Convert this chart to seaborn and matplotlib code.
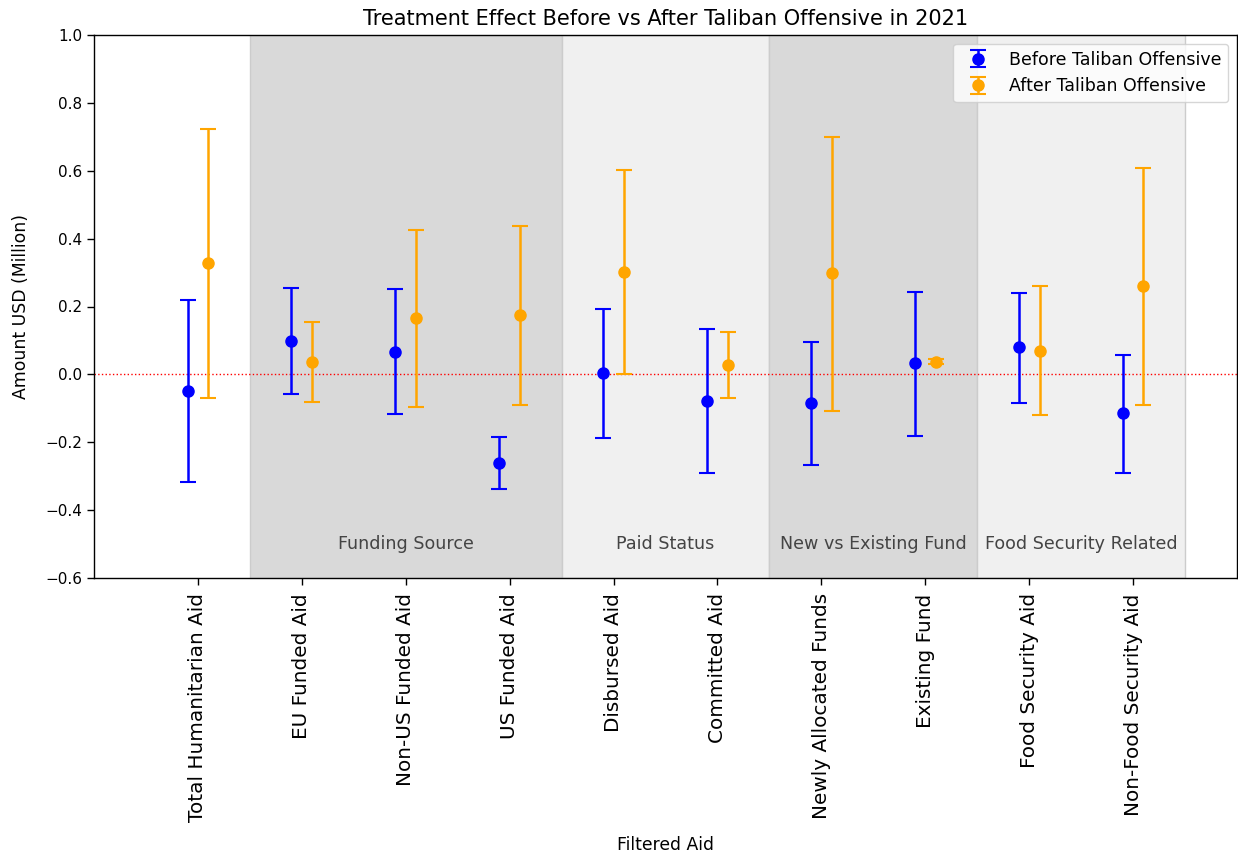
import numpy as np
import matplotlib
matplotlib.use("Agg")
import matplotlib.pyplot as plt
import seaborn as sns

categories = ["Total Humanitarian Aid", "EU Funded Aid", "Non-US Funded Aid", "US Funded Aid",
              "Disbursed Aid", "Committed Aid", "Newly Allocated Funds", "Existing Fund",
              "Food Security Aid", "Non-Food Security Aid"]

before_est = [-0.049, 0.098, 0.066, -0.261, 0.004, -0.078, -0.084, 0.034, 0.081, -0.114]
before_lo = [-0.317, -0.058, -0.117, -0.338, -0.187, -0.290, -0.267, -0.182, -0.084, -0.290]
before_hi = [0.220, 0.255, 0.251, -0.184, 0.192, 0.134, 0.095, 0.243, 0.240, 0.057]

after_est = [0.328, 0.037, 0.166, 0.175, 0.302, 0.028, 0.299, 0.037, 0.069, 0.261]
after_lo = [-0.070, -0.081, -0.096, -0.090, 0.002, -0.070, -0.108, 0.030, -0.119, -0.090]
after_hi = [0.723, 0.154, 0.425, 0.437, 0.602, 0.125, 0.700, 0.044, 0.261, 0.608]

groups = ["Funding Source", "Paid Status", "New vs Existing Fund", "Food Security Related"]
group_spans = [(0.5, 3.5), (3.5, 5.5), (5.5, 7.5), (7.5, 9.5)]
group_colors = ["#d9d9d9", "#f0f0f0", "#d9d9d9", "#f0f0f0"]

sns.set_style("ticks")
plt.rcParams["font.family"] = ["DejaVu Sans"]
plt.rcParams["text.color"] = "black"
plt.rcParams["axes.labelcolor"] = "black"
plt.rcParams["xtick.color"] = "black"
plt.rcParams["ytick.color"] = "black"

fig = plt.figure(figsize=(12.38, 8.57), dpi=100)
ax = fig.add_axes([94/1238, 1-578/857, (1237-94)/1238, (578-35)/857])

for (a, b), c, g in zip(group_spans, group_colors, groups):
    ax.axvspan(a, b, facecolor=c, edgecolor="#cccccc", alpha=1.0, zorder=0, lw=1)
    ax.text((a + b) / 2, -0.5, g, ha="center", va="center", fontsize=12.6, color="#444444")

x = np.arange(len(categories))
be = np.array(before_est); ae = np.array(after_est)
yerr_b = np.vstack([be - np.array(before_lo), np.array(before_hi) - be])
yerr_a = np.vstack([ae - np.array(after_lo), np.array(after_hi) - ae])

ax.errorbar(x - 0.1, be, yerr=yerr_b, fmt="o", color="blue", ecolor="blue",
            capsize=6, markersize=8, elinewidth=1.8, capthick=1.5,
            label="Before Taliban Offensive", zorder=3)
ax.errorbar(x + 0.1, ae, yerr=yerr_a, fmt="o", color="orange", ecolor="orange",
            capsize=6, markersize=8, elinewidth=1.8, capthick=1.5,
            label="After Taliban Offensive", zorder=3)

ax.axhline(0, color="red", linestyle=":", linewidth=1, zorder=2)

ax.set_xlim(-1, 10)
ax.set_ylim(-0.6, 1.0)
ax.set_xticks(x)
ax.set_xticklabels(categories, rotation=90, fontsize=14.4)
ax.set_yticks(np.arange(-0.6, 1.01, 0.2))
ax.set_yticklabels([f"{v:.1f}".replace("-", "\u2212") for v in np.arange(-0.6, 1.01, 0.2)], fontsize=11)
ax.tick_params(axis="both", direction="out", length=5, width=1, colors="black")
ax.tick_params(axis="x", pad=6)
for s in ax.spines.values():
    s.set_color("black")
    s.set_linewidth(1)
ax.set_xlabel("Filtered Aid", fontsize=12.4, labelpad=10)
ax.set_ylabel("Amount USD (Million)", fontsize=12.4, labelpad=11)
ax.set_title("Treatment Effect Before vs After Taliban Offensive in 2021", fontsize=15, pad=7, color="black")
ax.legend(loc="upper right", fontsize=12.5, frameon=True)

fig.savefig("out.png", dpi=100)
